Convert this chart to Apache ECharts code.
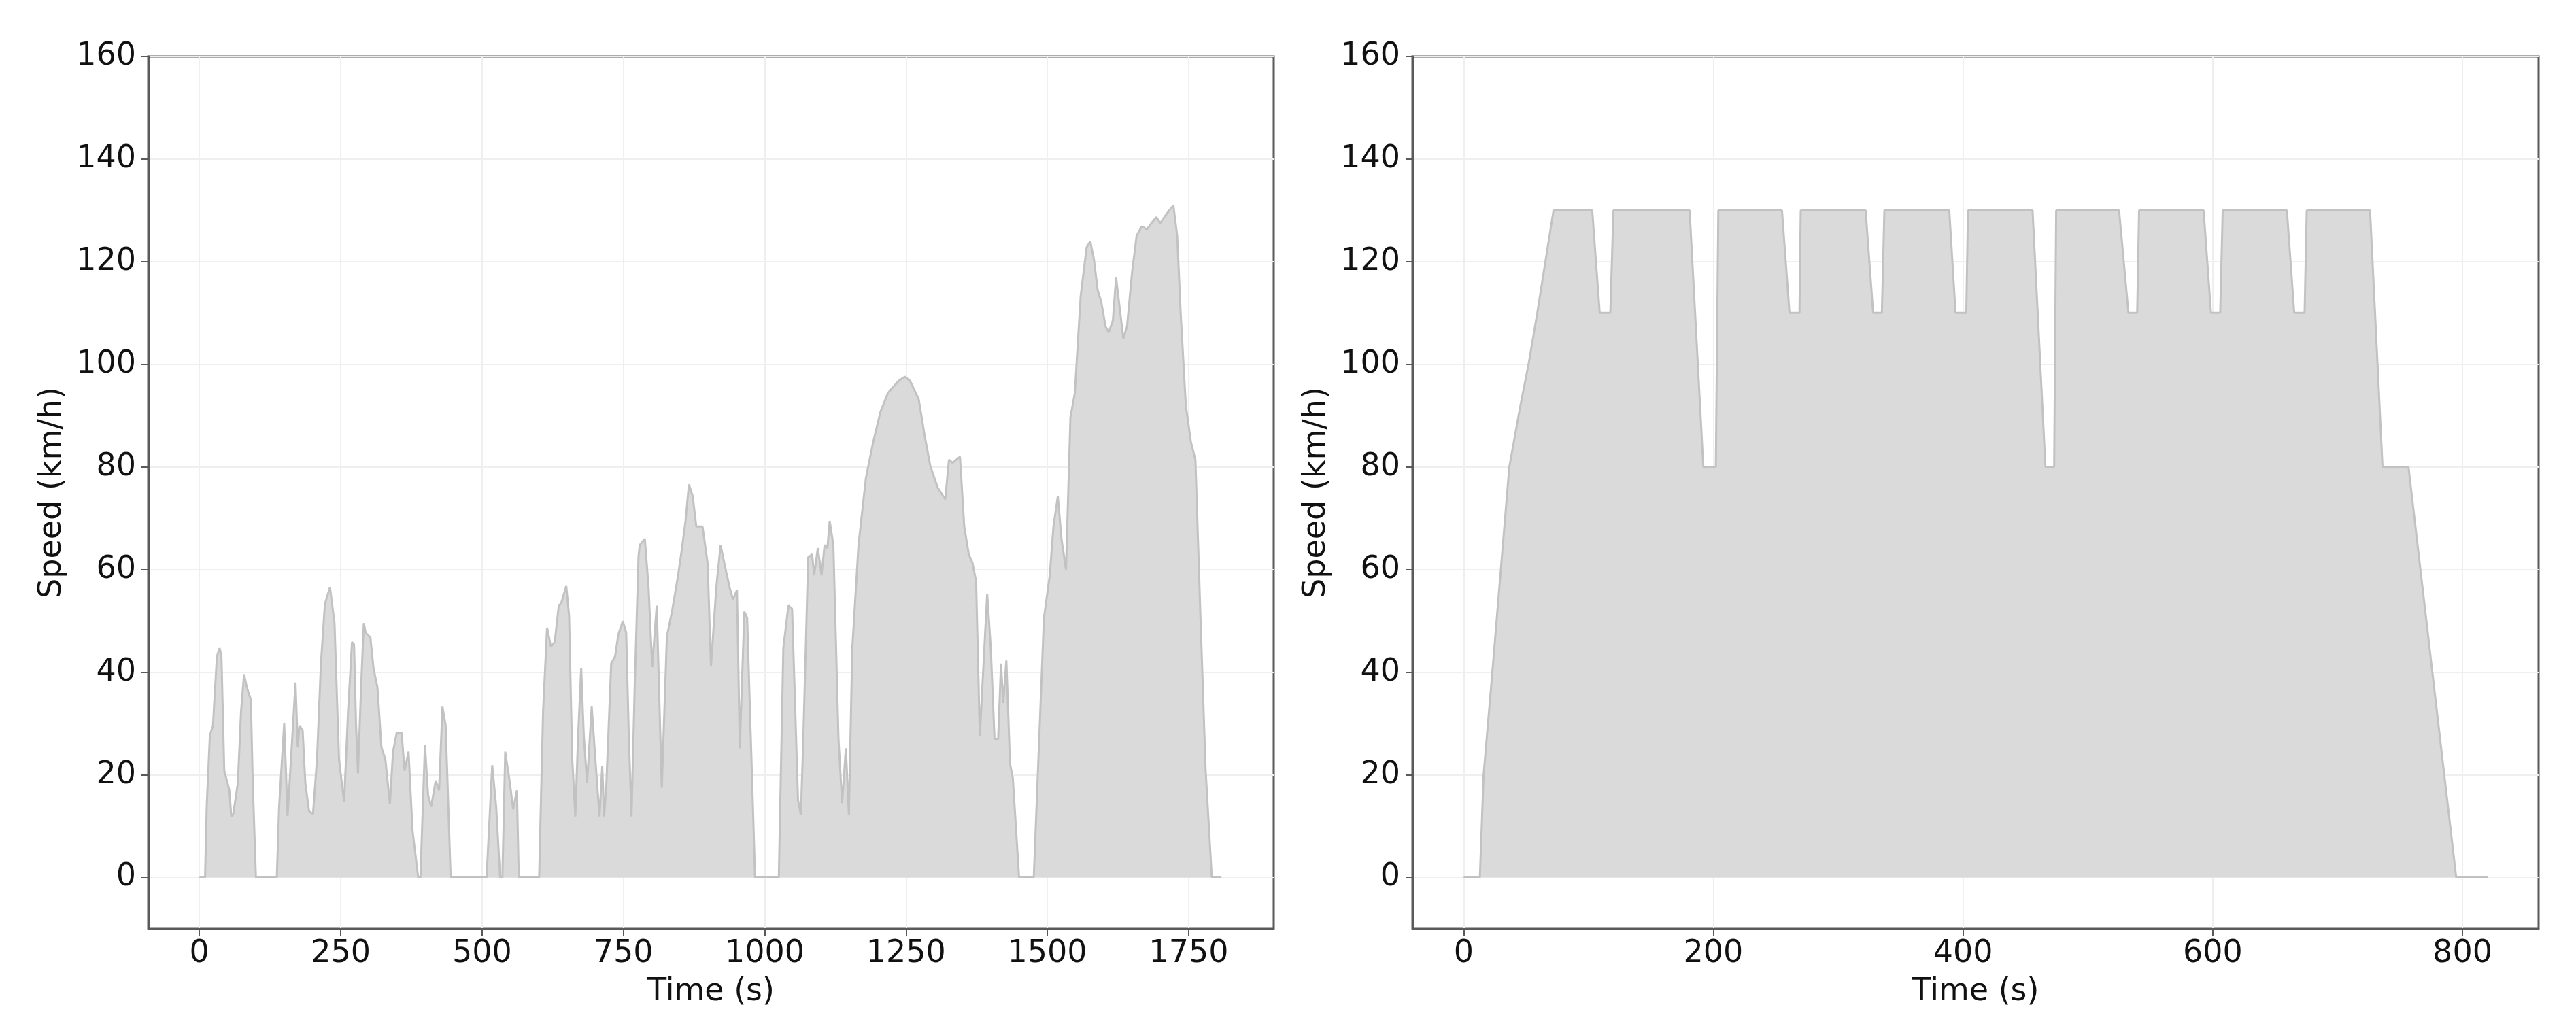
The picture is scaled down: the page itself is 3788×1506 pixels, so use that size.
<!DOCTYPE html>
<html>
<head>
<meta charset="utf-8">
<script src="https://cdn.jsdelivr.net/npm/echarts@6/dist/echarts.min.js"></script>
<style>
html,body{margin:0;padding:0;background:#fff;}
#c{width:3788px;height:1506px;}
</style>
</head>
<body>
<div id="c"></div>
<script>
// Left panel: time (s) and speed (km/h)
const leftTime = [0,10,13,18.5,24,31,35.8,39,44,53,56.4,60,68,73.7,79,84,91,94.4,100,137,
141,150,156,162,170,174,177,182.6,187.4,194,201,208,215,222,231,239,247,256,263,270,273.6,277,280.5,286,290.8,294,297.7,302.5,308,315,322,329,337,342.5,349,357.7,363,370,377,387,391,399,404.5,410,418,424,430,435.6,444.5,
508,518,525,532,536,541,549.3,555,561.7,565,601,
608,615,621.7,628.6,635.5,641,649,654,659.6,665,670,675.4,680,685.8,694,701,707.8,712.6,716,720,728.5,735.4,741,749,755,759.6,764.4,770,776.8,
779,788,794.6,801,809,818,827,836,847,853,860,866,872.7,879,890,899,905,914.4,922,931,938,944,951,956,964,969,983,1025,
1033,1042,1048.5,1059,1064,1068,1077,1084,1087.6,1094,1100.6,1106,1111,1115,1121.5,1130.6,1137,1143.6,1149,1155,1166,1179,1192,1205,1218,1237,1248,1257,1272.5,1283,1293,1306,1319.4,1326,1332.5,1339,1345.5,1353,1361,1367.6,1374,1380.6,1385.8,1393.6,1400,1406.6,1413,1418,1422,1427.5,1434,1439,1450,1476,
1494,1504.3,1510.8,1518.6,1525,1533,1540.8,1548.6,1559,1569.5,1576,1582.5,1589,1595.5,1603,1608.5,1616,1621.6,1628,1634.5,1641,1650,1658,1667,1676,1684,1693,1699.7,1707,1715,1723,1729.7,1736,1745,1754,1762,1771,1780,1791,1808];
const leftSpeed = [0,0,14,27.7,29.6,43.1,44.7,43.1,20.8,17,11.9,12.4,18.4,32.4,39.6,37,34.7,18.4,0,0,
13.8,30,12,23,38,25.4,29.6,28.7,18.4,12.9,12.4,23,41.7,53.3,56.6,49.6,23,14.7,32.4,45.9,45.4,30,20.3,37,49.6,47.7,47.3,46.8,40.8,37,25.4,23,14.3,24.5,28.2,28.2,20.8,24.5,9.2,0,0,25.9,16.1,13.8,18.9,17,33.3,29.6,0,
0,21.9,13.8,0,0,24.5,18.4,13.3,17,0,0,
32.4,48.7,45,45.9,52.8,53.8,56.8,51,23,11.9,27.7,40.8,27.7,18.4,33.3,22.2,11.9,21.7,11.9,18.4,41.7,43.1,47.3,50,47.7,27.7,11.9,37,62.6,
64.8,66,56.5,41,53,17.5,47,51.8,59,63.6,69.5,76.6,74.3,68.4,68.4,61.3,41.2,56.5,64.8,60,56.5,54.2,56,25.2,51.8,50.6,0,0,
44.7,53,52.4,15.1,12.2,25.8,62.4,63,58.9,64.2,58.9,64.8,64.2,69.5,64.8,27,14.5,25.2,12.2,44.7,64.8,77.8,84.9,90.8,94.4,96.8,97.6,96.8,93.2,86.1,80.2,76,73.7,81.4,80.8,81.4,82,68.4,63,61.3,57.7,27.5,38.8,55.3,44.7,27,27,41.7,34,42.3,22.2,19.3,0,0,
50.6,58.9,68.4,74.3,66,60,89.6,94.4,113.3,122.8,124,120.4,114.5,112.1,107.4,106.2,108.6,116.9,111,105,107.4,118,125.1,126.9,126.3,127.5,128.7,127.5,128.7,129.9,131,125.1,109.8,92,84.9,81.4,50.6,21,0,0];

// Right panel: time (s) and speed (km/h)
const rightTime = [0,13,16,23,36.6,45.5,52,59,72,103,109,117.5,120,181,192,202,204,255,261,269,270,322,328,335,337,389,394,402.6,404,455.7,466,473,474.6,525,532.5,539.5,541,592.7,598.6,606,608,659.4,665.3,673.6,675.3,726,736,756.8,795,820.5];
const rightSpeed = [0,0,20,40,80,92,100,110,130,130,110,110,130,130,80,80,130,130,110,110,130,130,110,110,130,130,110,110,130,130,80,80,130,130,110,110,130,130,110,110,130,130,110,110,130,130,80,80,0,0];

const yTicks = [0,20,40,60,80,100,120,140,160];
const leftXTicks = [0,250,500,750,1000,1250,1500,1750];
const rightXTicks = [0,200,400,600,800];

const FONT = 'DejaVu Sans';
const FS = 46;
const axisColor = '#5a5a5a';
const plain = v => String(v);

function xAxisCfg(gridIndex, min, max, ticks){
  return {
    type:'value', gridIndex, min, max,
    name:'Time (s)', nameLocation:'middle', nameGap:70,
    nameTextStyle:{fontFamily:FONT,fontSize:FS,color:'#111'},
    axisLine:{show:true,onZero:false,lineStyle:{color:axisColor,width:3}},
    axisTick:{show:true,inside:false,length:10,customValues:ticks,lineStyle:{color:axisColor,width:2}},
    axisLabel:{customValues:ticks,formatter:plain,margin:14,fontFamily:FONT,fontSize:FS,color:'#111'},
    splitLine:{show:true,lineStyle:{color:'#efefef',width:2}}
  };
}
function yAxisCfg(gridIndex){
  return {
    type:'value', gridIndex, min:-10, max:160,
    name:'Speed (km/h)', nameLocation:'middle', nameGap:118, nameRotate:90,
    nameTextStyle:{fontFamily:FONT,fontSize:FS,color:'#111'},
    axisLine:{show:true,onZero:false,lineStyle:{color:axisColor,width:3}},
    axisTick:{show:true,inside:false,length:10,customValues:yTicks,lineStyle:{color:axisColor,width:2}},
    axisLabel:{customValues:yTicks,formatter:plain,margin:18,fontFamily:FONT,fontSize:FS,color:'#111'},
    splitLine:{show:true,lineStyle:{color:'#efefef',width:2}}
  };
}

const chart = echarts.init(document.getElementById('c'), null, {renderer:'canvas'});
const option = {
  animation:false,
  backgroundColor:'#fff',
  grid:[
    {left:218, top:83, width:1655, height:1283, show:true, borderColor:axisColor, borderWidth:3, backgroundColor:'transparent'},
    {left:2077, top:83, width:1656, height:1283, show:true, borderColor:axisColor, borderWidth:3, backgroundColor:'transparent'}
  ],
  xAxis:[ xAxisCfg(0,-90.5,1900.5,leftXTicks), xAxisCfg(1,-41,861,rightXTicks) ],
  yAxis:[ yAxisCfg(0), yAxisCfg(1) ],
  series:[
    {type:'line', xAxisIndex:0, yAxisIndex:0, data:leftTime.map((t,i)=>[t,leftSpeed[i]]),
     showSymbol:false, lineStyle:{color:'#c2c2c2',width:3}, areaStyle:{color:'#dadada',opacity:1,origin:0}},
    {type:'line', xAxisIndex:1, yAxisIndex:1, data:rightTime.map((t,i)=>[t,rightSpeed[i]]),
     showSymbol:false, lineStyle:{color:'#c2c2c2',width:3}, areaStyle:{color:'#dadada',opacity:1,origin:0}}
  ]
};
chart.setOption(option);
</script>
</body>
</html>
